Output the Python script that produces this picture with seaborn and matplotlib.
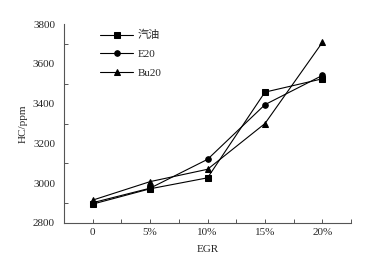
import numpy as np
import matplotlib
matplotlib.use('Agg')
import matplotlib.pyplot as plt
from matplotlib.ticker import MultipleLocator
import seaborn as sns
import pandas as pd

egr = ['0', '5%', '10%', '15%', '20%']
gasoline = [2895, 2972, 3027, 3458, 3525]
e20 = [2902, 2975, 3120, 3395, 3542]
bu20 = [2915, 3008, 3070, 3300, 3708]
names = ['汽油', 'E20', 'Bu20']

sns.set_style('white')
plt.rcParams['font.family'] = ['Liberation Serif', 'Noto Sans CJK SC']
plt.rcParams['font.size'] = 8

df = pd.DataFrame({'EGR': egr * 3,
                   'HC': gasoline + e20 + bu20,
                   'fuel': [n for n in names for _ in egr]})
df['x'] = np.tile(np.arange(len(egr)), 3)

fig = plt.figure(figsize=(3.68, 2.68), dpi=100)
ax = fig.add_axes([0.174, 0.168, 0.78, 0.742])
sns.lineplot(data=df, x='x', y='HC', hue='fuel', style='fuel',
             palette=['black'] * 3, markers=['s', 'o', '^'], dashes=False,
             markersize=4, linewidth=0.8, markeredgecolor='black', ax=ax)

ax.set_xlim(-0.5, 4.5)
ax.set_ylim(2800, 3800)
ax.set_xticks(range(len(egr)))
ax.set_xticklabels(egr)
ax.xaxis.set_minor_locator(MultipleLocator(0.5))
ax.yaxis.set_major_locator(MultipleLocator(200))
ax.yaxis.set_minor_locator(MultipleLocator(100))
ax.tick_params(axis='y', which='major', direction='out', length=3, width=0.7, color='#555555')
ax.tick_params(axis='y', which='minor', direction='in', length=3, width=0.7, color='#555555', left=True)
ax.tick_params(axis='x', which='both', direction='in', length=3, width=0.7, color='#555555', bottom=True)
for s in ['top', 'right']:
    ax.spines[s].set_visible(False)
for s in ['left', 'bottom']:
    ax.spines[s].set_color('#555555')
    ax.spines[s].set_linewidth(0.8)

ax.set_xlabel('EGR', labelpad=6)
ax.set_ylabel('HC/ppm')
ax.legend(loc='upper left', bbox_to_anchor=(0.09, 1.02), frameon=False,
          handlelength=3.0, handletextpad=0.4, labelspacing=0.8, fontsize=8)

fig.savefig('out.png', dpi=100)
